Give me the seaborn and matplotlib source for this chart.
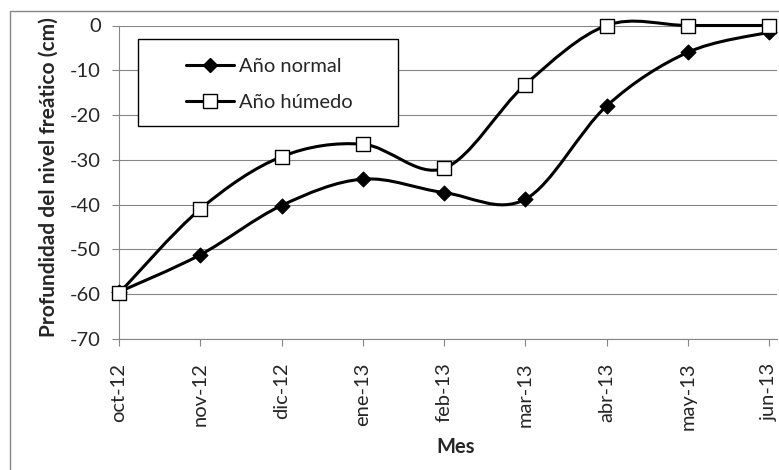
import numpy as np
import pandas as pd
import matplotlib
matplotlib.use("Agg")
import matplotlib.pyplot as plt
import seaborn as sns
from matplotlib.path import Path
from matplotlib.patches import PathPatch, Rectangle
from matplotlib.lines import Line2D

# ---- data ----
meses = ["oct-12", "nov-12", "dic-12", "ene-13", "feb-13", "mar-13", "abr-13", "may-13", "jun-13"]
normal = [-59.5, -51.2, -40.2, -34.3, -37.3, -38.8, -18.0, -6.0, -1.5]
humedo = [-59.8, -41.0, -29.3, -26.5, -31.9, -13.2, 0.0, 0.0, 0.0]
series_labels = ["Año normal", "Año húmedo"]
y_ticks = [-70, -60, -50, -40, -30, -20, -10, 0]

sns.set_style("white")
plt.rcParams['font.family'] = ['Lato', 'DejaVu Sans']

W, H = 779, 470
fig = plt.figure(figsize=(W / 100, H / 100), dpi=100)


def fx(px):
    return px / W


def fy(py):
    return 1 - py / H


ax_l, ax_r, ax_t, ax_b = 119, 777, 25.5, 339
ax = fig.add_axes([fx(ax_l), fy(ax_b), (ax_r - ax_l) / W, (ax_b - ax_t) / H])

x = np.arange(len(meses))
df = pd.DataFrame({"x": np.concatenate([x, x]),
                   "y": normal + humedo,
                   "serie": [series_labels[0]] * len(x) + [series_labels[1]] * len(x)})


def smooth_path(xs, ys):
    P = np.column_stack([xs, ys]).astype(float)
    n = len(P)
    verts = [P[0]]
    codes = [Path.MOVETO]
    for i in range(n - 1):
        p0 = P[i - 1] if i > 0 else P[i]
        p1 = P[i]
        p2 = P[i + 1]
        p3 = P[i + 2] if i + 2 < n else P[i + 1]
        c1 = p1 + (p2 - p0) / 6.0
        c2 = p2 - (p3 - p1) / 6.0
        verts += [c1, c2, p2]
        codes += [Path.CURVE4] * 3
    return Path(verts, codes)


lw = 2.2
for ys in (normal, humedo):
    patch = PathPatch(smooth_path(x, ys), facecolor="none", edgecolor="black",
                      lw=lw, zorder=3, clip_on=False, capstyle="round", joinstyle="round")
    ax.add_patch(patch)

d_norm = df[df.serie == series_labels[0]]
d_hum = df[df.serie == series_labels[1]]
sns.scatterplot(data=d_norm, x="x", y="y", marker="D", s=7.6 ** 2, color="black",
                edgecolor="black", linewidth=0.8, ax=ax, zorder=4, clip_on=False, legend=False)
sns.scatterplot(data=d_hum, x="x", y="y", marker="s", s=9.6 ** 2, color="white",
                edgecolor="black", linewidth=1.0, ax=ax, zorder=4, clip_on=False, legend=False)

ax.set_xlim(0, (ax_r - ax_l) / 81.25)
ax.set_ylim(-70, 0)
ax.set_xticks(x)
ax.set_xticklabels(meses, rotation=90)
ax.set_yticks(y_ticks)
ax.set_yticklabels([str(v) for v in y_ticks])

fs = 14.5
grey = "#868686"
ax.grid(False)
ax.yaxis.grid(True, color=grey, lw=0.8)
ax.set_axisbelow(True)
for s in ("top", "right"):
    ax.spines[s].set_visible(False)
for s in ("left", "bottom"):
    ax.spines[s].set_color(grey)
    ax.spines[s].set_linewidth(0.8)
ax.tick_params(axis="y", length=5, direction="out", color=grey, width=0.8, pad=8,
               labelsize=fs, left=True)
ax.tick_params(axis="x", length=5, direction="out", color=grey, width=0.8, pad=12,
               labelsize=fs, bottom=True)

ax.set_ylabel("Profundidad del nivel freático (cm)", fontsize=15, fontweight="bold")
ax.yaxis.label.set_va("center")
ax.yaxis.set_label_coords((49 - ax_l) / (ax_r - ax_l), (ax_b - 177.5) / (ax_b - ax_t))
ax.set_xlabel("Mes", fontsize=fs, fontweight="bold")
ax.xaxis.label.set_va("center")
ax.xaxis.set_label_coords((456 - ax_l) / (ax_r - ax_l), (ax_b - 447) / (ax_b - ax_t))

# outer chart border (clipped by the image on the right and bottom)
fig.add_artist(Rectangle((fx(10), fy(700)), fx(1000), (700 - 11) / H, transform=fig.transFigure,
                         facecolor="none", edgecolor=grey, lw=1.0, zorder=0))

# legend box
fig.add_artist(Rectangle((fx(138), fy(126)), fx(398 - 138), (126 - 39) / H, transform=fig.transFigure,
                         facecolor="white", edgecolor="black", lw=1.0, zorder=4))
handles = [
    Line2D([], [], color="black", lw=lw, marker="D", markersize=7.6, markerfacecolor="black",
           markeredgecolor="black"),
    Line2D([], [], color="black", lw=lw, marker="s", markersize=9.6, markerfacecolor="white",
           markeredgecolor="black"),
]
leg = fig.legend(handles, series_labels, loc="center", bbox_to_anchor=(fx(269.5), fy(84.5)),
                 frameon=False, fontsize=fs, handlelength=2.39, handletextpad=0.25,
                 labelspacing=0.95, borderpad=0.0)
leg.set_zorder(5)

fig.savefig("out.png", dpi=100)
